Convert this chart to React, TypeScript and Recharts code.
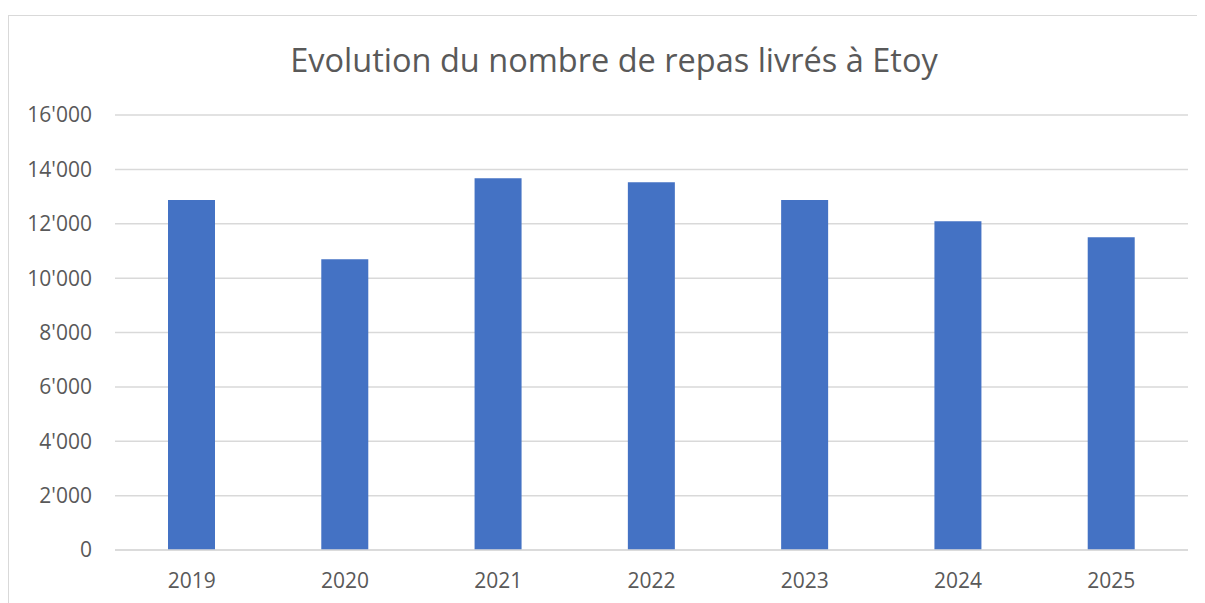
import React from "react";
import { BarChart, Bar, XAxis, YAxis, CartesianGrid } from "recharts";

const years = ["2019", "2020", "2021", "2022", "2023", "2024", "2025"];
const meals = [12870, 10690, 13670, 13530, 12870, 12090, 11500];
const yTicks = [0, 2000, 4000, 6000, 8000, 10000, 12000, 14000, 16000];
const title = "Evolution du nombre de repas livrés à Etoy";

const data = years.map((y, i) => ({ year: y, value: meals[i] }));

const fmt = (v: number) => {
  if (v === 0) return "0";
  const th = Math.floor(v / 1000);
  const rest = String(v % 1000).padStart(3, "0");
  return `${th}'${rest}`;
};

const FONT = "'Open Sans', sans-serif";

export default function App() {
  return (
    <div style={{ paddingTop: 7 }}>
      <style>{"html,body{overflow:hidden}"}</style>
      <div
        style={{
          position: "relative",
          width: 1220,
          height: 620,
          borderTop: "1px solid #d9d9d9",
          borderLeft: "1px solid #d9d9d9",
          background: "#fff",
          fontFamily: FONT,
        }}
      >
        <div
          style={{
            position: "absolute",
            left: 605,
            top: 28,
            transform: "translateX(-50%)",
            whiteSpace: "nowrap",
            fontSize: 32.5,
            lineHeight: "1",
            color: "#595959",
            fontFamily: FONT,
          }}
        >
          {title}
        </div>
        <BarChart
          width={1190}
          height={600}
          data={data}
          margin={{ top: 99, right: 11, left: 0, bottom: 26 }}
        >
          <CartesianGrid vertical={false} stroke="#d9d9d9" strokeWidth={1.5} />
          <XAxis
            dataKey="year"
            height={40}
            tickLine={false}
            tickSize={0}
            tickMargin={23}
            axisLine={{ stroke: "#d9d9d9", strokeWidth: 1.5 }}
            tick={{ fill: "#595959", fontSize: 21, fontFamily: FONT }}
          />
          <YAxis
            width={106}
            domain={[0, 16000]}
            ticks={yTicks}
            interval={0}
            tickFormatter={fmt}
            axisLine={false}
            tickLine={false}
            tickSize={0}
            tickMargin={23}
            tick={{ fill: "#595959", fontSize: 21, fontFamily: FONT }}
          />
          <Bar dataKey="value" fill="#4472C4" barSize={47} isAnimationActive={false} />
        </BarChart>
      </div>
    </div>
  );
}
